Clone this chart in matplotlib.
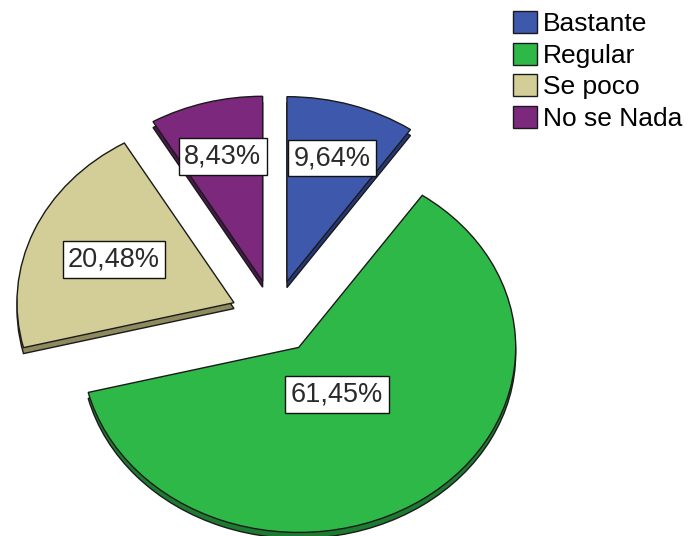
import matplotlib
matplotlib.use("Agg")
import matplotlib.pyplot as plt
import numpy as np
from matplotlib.patches import Patch

categorias = ["Bastante", "Regular", "Se poco", "No se Nada"]
porcentajes = [9.64, 61.45, 20.48, 8.43]
etiquetas = ["9,64%", "61,45%", "20,48%", "8,43%"]

colores = ["#3E58AC", "#2EB848", "#D3CE97", "#7C287D"]
colores_lado = ["#27387A", "#1D7A31", "#8E8A5E", "#4C174E"]
explode = [0.2, 0.2, 0.2, 0.2]
dist_etiqueta = [0.7, 0.31, 0.6, 0.7]

plt.rcParams["font.family"] = ["Liberation Sans", "DejaVu Sans"]

fig = plt.figure(figsize=(6.88, 5.36), dpi=100)
ax = fig.add_axes([0, 0, 1, 1])

# cara lateral (efecto 3D)
grosor = 0.032
borde = dict(edgecolor="#1a1a1a", linewidth=1.0)
ax.pie(porcentajes, explode=explode, colors=colores_lado, startangle=90,
       counterclock=False, center=(0, -grosor), wedgeprops=borde)
cunas, _ = ax.pie(porcentajes, explode=explode, colors=colores, startangle=90,
                  counterclock=False, wedgeprops=borde)

for cuna, txt, d in zip(cunas, etiquetas, dist_etiqueta):
    ang = np.deg2rad((cuna.theta1 + cuna.theta2) / 2)
    cx, cy = cuna.center
    ax.text(cx + d * np.cos(ang), cy + d * np.sin(ang), txt,
            ha="center", va="center", fontsize=19.5, color="#2a2a2a",
            bbox=dict(boxstyle="square,pad=0.2", facecolor="white",
                      edgecolor="#111111", linewidth=1.0))

ax.set_aspect("auto")
ax.set_xlim(-274 / 217, (688 - 274) / 217)
ax.set_ylim(-219 / 185, (536 - 219) / 185)
ax.axis("off")

manijas = [Patch(facecolor=c, edgecolor="#1a1a1a", linewidth=1.0) for c in colores]
ax.legend(manijas, categorias, loc="upper left",
          bbox_to_anchor=(513 / 688, 1 - 11 / 536), frameon=False,
          fontsize=19, handlelength=0.9, handleheight=0.9,
          handletextpad=0.25, labelspacing=0.25, borderpad=0,
          borderaxespad=0)

fig.savefig("out.png", dpi=100)
